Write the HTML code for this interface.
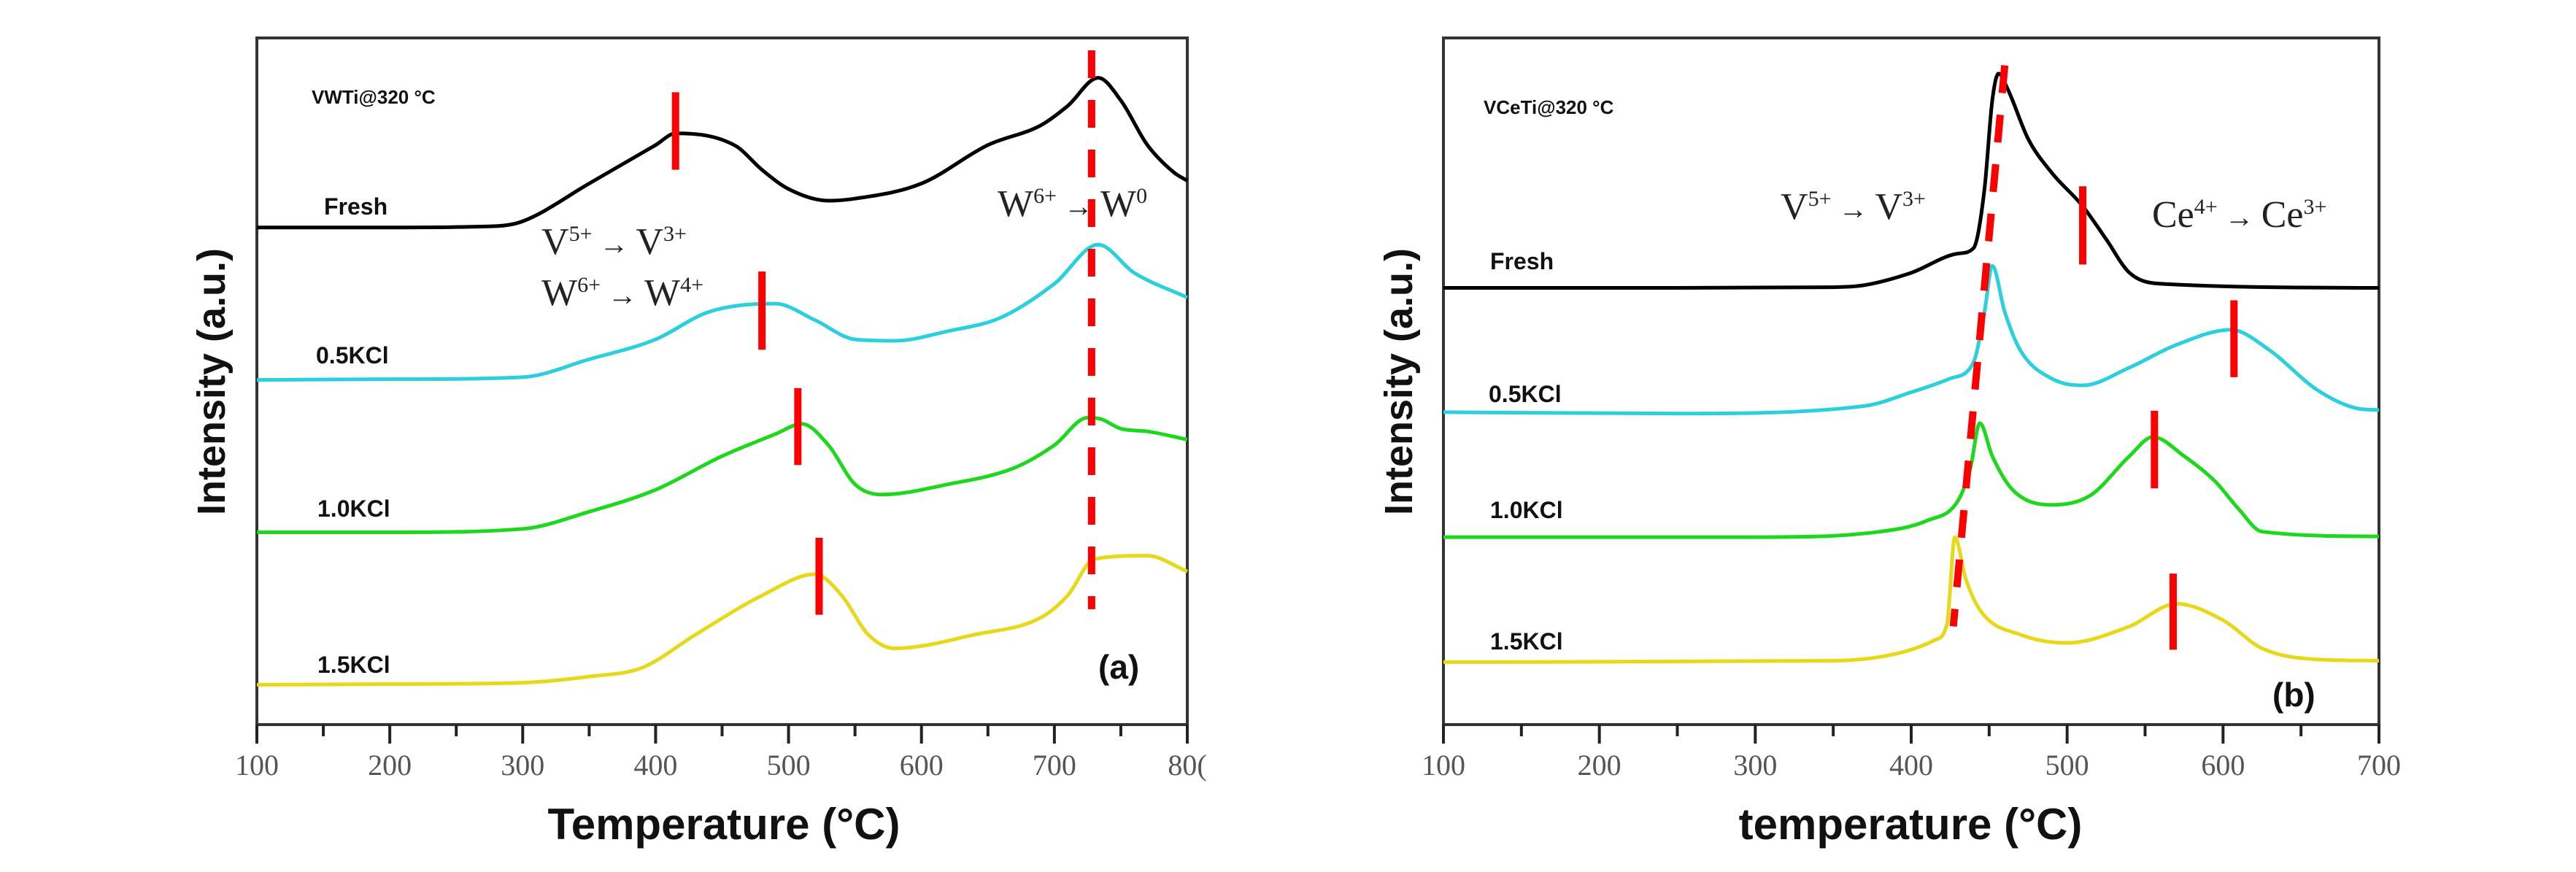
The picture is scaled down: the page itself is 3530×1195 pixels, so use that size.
<!DOCTYPE html>
<html><head><meta charset="utf-8"><style>
body{margin:0;background:#fff;}
svg{display:block;}
.tick{font-family:"Liberation Serif",serif;font-size:40px;fill:#555;}
.lab{font-family:"Liberation Sans",sans-serif;font-weight:bold;font-size:32px;fill:#111;}
.ann{font-family:"Liberation Serif",serif;font-size:52px;fill:#222;}
.title{font-family:"Liberation Sans",sans-serif;font-weight:bold;font-size:60px;fill:#111;}
</style></head><body>
<svg id="chart" width="3530" height="1195" viewBox="0 0 3530 1195" xmlns="http://www.w3.org/2000/svg"></svg>
<script>
// ---- Panel (a) data ----
const aFreshT=[100,200,280,300,350,400,415,460,480,500,530,550,600,650,690,710,733,750,770,790,800];
const aFreshI=[72.4,72.4,72.6,73.3,78.8,84.4,86.1,84.3,80.8,78,76.3,76.6,78.8,84.4,87.3,90.1,94.2,90.9,84.4,80.4,79.2];
const a05T=[100,200,300,350,400,440,490,520,550,580,620,660,700,733,760,800];
const a05I=[50.2,50.3,50.6,53.2,56.1,60.1,61.3,58.9,56.1,55.9,57.3,59.3,64.2,69.9,65.8,62.2];
const a10T=[100,200,300,350,400,450,490,510,530,550,570,620,670,700,725,735,750,770,800];
const a10I=[28,28,28.5,31,34.2,39.1,42.3,43.8,40.7,35,33.5,35,37.4,40.7,44.7,44.5,43.1,42.7,41.5];
const a15T=[100,200,300,350,390,430,480,520,540,560,580,640,690,710,730,770,800];
const a15I=[5.8,5.9,6.1,7,8.3,13.1,18.8,21.9,18.8,13.1,11.1,13.1,15.6,18.8,24.1,24.6,22.3];
const aDashT=[415,480,507,523];
const aDashTop=[92.1,66,49,27.2];
const aDashBot=[80.8,54.6,37.8,16];
const aLongT=728, aLongTop=98.2, aLongBot=16.8;
// ---- Panel (b) data ----
const bFreshT=[100,250,350,370,400,430,440,447,452,456,462,475,490,510,525,540,560,700];
const bFreshI=[63.6,63.6,63.7,64,65.8,68.6,69.4,78,90.9,94.8,92.5,85.3,80.4,75.5,70.7,65.8,64.2,63.6];
const b05T=[100,250,370,400,425,440,447,452,460,470,490,510,540,570,605,630,660,685,700];
const b05I=[45.5,45.3,46.4,48.4,50.4,52.8,60.1,66.8,60.1,54.5,50.4,49.4,52,55.3,57.5,54.5,48.8,46.1,45.8];
const b10T=[100,300,380,410,430,438,444,452,465,490,515,540,555,575,595,610,625,700];
const b10I=[27.3,27.3,28.1,29.7,32.6,37.4,43.9,39.1,34.2,32,33.4,39.1,41.9,39.1,35.4,31.4,28.1,27.4];
const b15T=[100,350,390,415,423,428,435,445,470,500,540,570,600,625,660,700];
const b15I=[9.1,9.3,10.3,12.3,14.7,27.3,21.2,16.4,13.1,11.9,14.3,17.6,15.2,11.1,9.5,9.3];
const bDashT=[510,607,556,568];
const bDashTop=[78.4,61.8,45.7,22];
const bDashBot=[67,50.6,34.4,10.9];
const bSlantT1=460,bSlantI1=96,bSlantT2=427,bSlantI2=14.3;
const aTicks=[100,200,300,400,500,600,700,800];
const aTickLabels=["100","200","300","400","500","600","700","80("];
const bTicks=[100,200,300,400,500,600,700];
const bTickLabels=["100","200","300","400","500","600","700"];

const NS="http://www.w3.org/2000/svg";
const svg=document.getElementById('chart');
function el(tag,attrs,parent){const e=document.createElementNS(NS,tag);for(const k in attrs)e.setAttribute(k,attrs[k]);(parent||svg).appendChild(e);return e;}
const Y0=993,Y1=52;
function yS(v){return Y0-(v/100)*(Y0-Y1);}
// monotone cubic (Fritsch-Carlson) path
function smooth(p){const n=p.length;const d=[],m=[];for(let i=0;i<n-1;i++)d.push((p[i+1][1]-p[i][1])/(p[i+1][0]-p[i][0]));
  m[0]=d[0];m[n-1]=d[n-2];for(let i=1;i<n-1;i++){m[i]=(d[i-1]*d[i]<=0)?0:(d[i-1]+d[i])/2;}
  for(let i=0;i<n-1;i++){if(d[i]===0){m[i]=0;m[i+1]=0;continue;}const a=m[i]/d[i],b=m[i+1]/d[i],s=a*a+b*b;if(s>9){const t=3/Math.sqrt(s);m[i]=t*a*d[i];m[i+1]=t*b*d[i];}}
  let s=`M${p[0][0]},${p[0][1]}`;for(let i=0;i<n-1;i++){const h=(p[i+1][0]-p[i][0])/3;s+=` C${p[i][0]+h},${p[i][1]+m[i]*h} ${p[i+1][0]-h},${p[i+1][1]-m[i+1]*h} ${p[i+1][0]},${p[i+1][1]}`;}return s;}
function panel(cfg){
  const g=el('g',{});
  
  
  const xS=t=>cfg.x0+(t-cfg.t0)/(cfg.t1-cfg.t0)*(cfg.x1-cfg.x0);
  const frame=el('rect',{x:cfg.x0,y:Y1,width:cfg.x1-cfg.x0,height:Y0-Y1,fill:'none',stroke:'#333','stroke-width':4},g);
  
  
  for(let t=cfg.t0;t<=cfg.t1;t+=50){const major=(t%100===0);const tk=el('line',{x1:xS(t),x2:xS(t),y1:Y0,y2:Y0+(major?26:16),stroke:'#222','stroke-width':4},g);
    
    }
  cfg.ticks.forEach((t,i)=>{const tx=el('text',{x:xS(t),y:1062,'text-anchor':'middle',class:'tick'},g);tx.textContent=cfg.tickLabels[i];
    
    });
  cfg.series.forEach(s=>{const pts=s.T.map((t,i)=>[xS(t),yS(s.I[i])]);const p=el('path',{d:smooth(pts),fill:'none',stroke:s.c,'stroke-width':5,'stroke-linejoin':'round'},g);
    
    });
  cfg.dashes.forEach(dd=>{const l=el('line',{x1:xS(dd[0]),x2:xS(dd[2]),y1:yS(dd[1]),y2:yS(dd[3]),stroke:'#f00','stroke-width':10,'stroke-dasharray':dd[4]||'none'},g);
    
    });
  return g;
}
const aD=aDashT.map((t,i)=>[t,aDashTop[i],t,aDashBot[i]]);
aD.push([aLongT,aLongTop,aLongT,aLongBot,'38,30']);
panel({name:'panel-a',x0:352,x1:1627,t0:100,t1:800,ticks:aTicks,tickLabels:aTickLabels,
 series:[{T:aFreshT,I:aFreshI,c:'#000',n:'fresh-curve-a'},{T:a05T,I:a05I,c:'#2ccfdc',n:'kcl05-curve-a'},{T:a10T,I:a10I,c:'#1ed81e',n:'kcl10-curve-a'},{T:a15T,I:a15I,c:'#e8d81a',n:'kcl15-curve-a'}],dashes:aD});
const bD=bDashT.map((t,i)=>[t,bDashTop[i],t,bDashBot[i]]);
bD.push([bSlantT1,bSlantI1,bSlantT2,bSlantI2,'38,30']);
panel({name:'panel-b',x0:1978,x1:3260,t0:100,t1:700,ticks:bTicks,tickLabels:bTickLabels,
 series:[{T:bFreshT,I:bFreshI,c:'#000',n:'fresh-curve-b'},{T:b05T,I:b05I,c:'#2ccfdc',n:'kcl05-curve-b'},{T:b10T,I:b10I,c:'#1ed81e',n:'kcl10-curve-b'},{T:b15T,I:b15I,c:'#e8d81a',n:'kcl15-curve-b'}],dashes:bD});
</script>
<svg style="position:absolute;left:0;top:0" width="3530" height="1195">
<text x="427" y="142" class="lab" style="font-size:26px">VWTi@320 °C</text>
<text x="444" y="294" class="lab">Fresh</text>
<text x="433" y="498" class="lab">0.5KCl</text>
<text x="435" y="708" class="lab">1.0KCl</text>
<text x="435" y="922" class="lab">1.5KCl</text>
<text x="1505" y="930" class="lab" style="font-size:46px">(a)</text>
<text x="742" y="348" class="ann">V<tspan dy="-18" font-size="30">5+</tspan><tspan dy="18" font-size="40"> → </tspan>V<tspan dy="-18" font-size="30">3+</tspan></text>
<text x="742" y="418" class="ann">W<tspan dy="-18" font-size="30">6+</tspan><tspan dy="18" font-size="40"> → </tspan>W<tspan dy="-18" font-size="30">4+</tspan></text>
<text x="1367" y="296" class="ann">W<tspan dy="-18" font-size="30">6+</tspan><tspan dy="18" font-size="40"> → </tspan>W<tspan dy="-18" font-size="30">0</tspan></text>
<text transform="translate(308,523) rotate(-90)" text-anchor="middle" class="title" style="font-size:54px">Intensity (a.u.)</text>
<text x="992" y="1150" text-anchor="middle" class="title">Temperature (°C)</text>
<text x="2033" y="156" class="lab" style="font-size:26px">VCeTi@320 °C</text>
<text x="2042" y="369" class="lab">Fresh</text>
<text x="2040" y="551" class="lab">0.5KCl</text>
<text x="2042" y="710" class="lab">1.0KCl</text>
<text x="2042" y="890" class="lab">1.5KCl</text>
<text x="3114" y="968" class="lab" style="font-size:46px">(b)</text>
<text x="2440" y="300" class="ann">V<tspan dy="-18" font-size="30">5+</tspan><tspan dy="18" font-size="40"> → </tspan>V<tspan dy="-18" font-size="30">3+</tspan></text>
<text x="2949" y="311" class="ann">Ce<tspan dy="-18" font-size="30">4+</tspan><tspan dy="18" font-size="40"> → </tspan>Ce<tspan dy="-18" font-size="30">3+</tspan></text>
<text transform="translate(1935,523) rotate(-90)" text-anchor="middle" class="title" style="font-size:54px">Intensity (a.u.)</text>
<text x="2618" y="1150" text-anchor="middle" class="title">temperature (°C)</text>
</svg>
</body></html>
